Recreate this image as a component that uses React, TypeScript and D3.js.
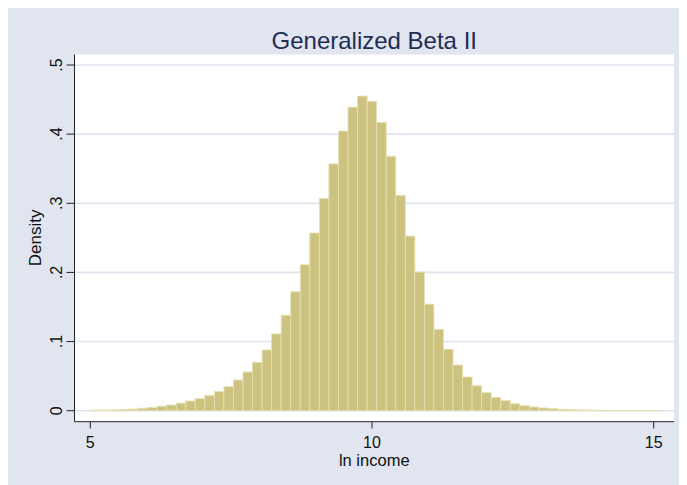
import React from "react";
import * as d3 from "d3";

const title = "Generalized Beta II";
const xLabel = "ln income";
const yLabel = "Density";
const xTicks = [5, 10, 15];
const yTicks = [0, 0.1, 0.2, 0.3, 0.4, 0.5];
const yTickLabels = ["0", ".1", ".2", ".3", ".4", ".5"];
const binStart = 5.0;
const binWidth = 0.16942;
const densities = [
  0.0008, 0.001, 0.0013, 0.0018, 0.0024, 0.0035, 0.0047, 0.0065, 0.0082, 0.011,
  0.014, 0.0174, 0.0222, 0.0275, 0.0347, 0.0444, 0.056, 0.07, 0.0878, 0.111,
  0.138, 0.172, 0.211, 0.257, 0.307, 0.357, 0.4045, 0.439, 0.455, 0.4475,
  0.417, 0.368, 0.3115, 0.2525, 0.2005, 0.154, 0.1177, 0.0888, 0.066, 0.0487,
  0.036, 0.026, 0.0193, 0.0145, 0.01, 0.0072, 0.0053, 0.0039, 0.0029, 0.002,
  0.0015, 0.0011, 0.0008, 0.0006, 0.0005, 0.0004, 0.0003, 0.0003, 0.0002, 0.0002,
];

const W = 679;
const H = 477;
const OFF = 8;

export default function App() {
  const x = d3.scaleLinear().domain([5, 15]).range([90.3, 653.7]);
  const y = d3.scaleLinear().domain([0, 0.5]).range([410.7, 65]);
  const plotL = 74.5, plotR = 674, plotT = 54.5, axisY = 421.7;
  const font = "'Liberation Sans', Arial, Helvetica, sans-serif";
  const bins = densities.map((d, i) => ({
    x0: binStart + i * binWidth,
    x1: binStart + (i + 1) * binWidth,
    d,
  }));
  return (
    <svg width={W} height={H} style={{ display: "block" }}>
      <rect x={0} y={0} width={W} height={H} fill="#e0e5f0" />
      <g transform={`translate(${-OFF},${-OFF})`} fontFamily={font}>
        <rect x={plotL} y={plotT} width={plotR - plotL} height={axisY - plotT} fill="#ffffff" />
        {yTicks.map((t) => (
          <line key={"g" + t} x1={plotL} x2={plotR} y1={y(t)} y2={y(t)} stroke="#dfe4ef" strokeWidth={1.6} />
        ))}
        {bins.map((b, i) => (
          <rect
            key={i}
            x={x(b.x0)}
            y={y(b.d)}
            width={x(b.x1) - x(b.x0)}
            height={y(0) - y(b.d)}
            fill="#cbc37f"
            stroke="#e6e0b2"
            strokeWidth={0.9}
          />
        ))}
        <line x1={plotL} x2={plotL} y1={plotT} y2={axisY} stroke="#222" strokeWidth={1} />
        <line x1={plotL} x2={plotR} y1={axisY} y2={axisY} stroke="#222" strokeWidth={1} />
        {yTicks.map((t, i) => (
          <g key={"yt" + t}>
            <line x1={66.5} x2={plotL} y1={y(t)} y2={y(t)} stroke="#222" strokeWidth={1} />
            <text
              transform={`translate(${61.5},${y(t)}) rotate(-90)`}
              textAnchor="middle"
              fontSize={16}
              fill="#111"
            >
              {yTickLabels[i]}
            </text>
          </g>
        ))}
        {xTicks.map((t) => (
          <g key={"xt" + t}>
            <line x1={x(t)} x2={x(t)} y1={axisY} y2={428.5} stroke="#222" strokeWidth={1} />
            <text x={x(t)} y={447.5} textAnchor="middle" fontSize={16} fill="#111">
              {t}
            </text>
          </g>
        ))}
        <text x={(plotL + plotR) / 2} y={466} textAnchor="middle" fontSize={16.5} fill="#111">
          {xLabel}
        </text>
        <text
          transform={`translate(${40.5},${(y(0) + y(0.5)) / 2}) rotate(-90)`}
          textAnchor="middle"
          fontSize={17}
          fill="#111"
        >
          {yLabel}
        </text>
        <text x={(plotL + plotR) / 2} y={48.5} textAnchor="middle" fontSize={24} fill="#1f2d55">
          {title}
        </text>
      </g>
    </svg>
  );
}
